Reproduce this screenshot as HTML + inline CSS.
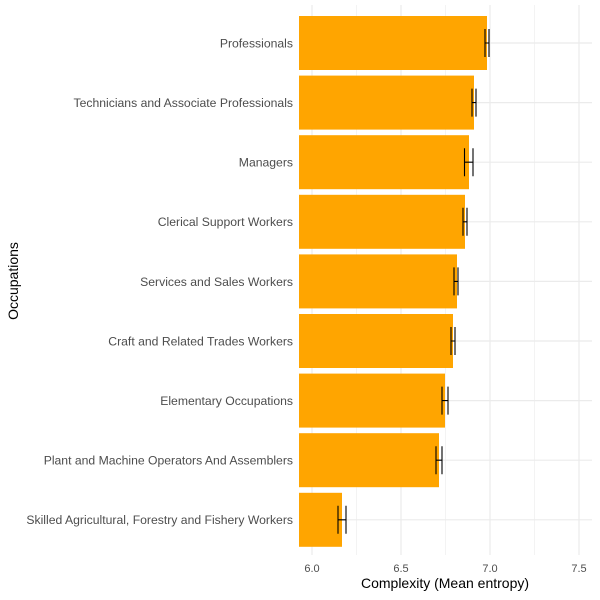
<!DOCTYPE html>
<html><head><style>body{margin:0;background:#fff}svg{display:block}</style></head><body>
<svg width="600" height="600" xmlns="http://www.w3.org/2000/svg" font-family="Liberation Sans, sans-serif">
<rect width="600" height="600" fill="#fff"/>
<g stroke="#ebebeb" stroke-width="0.6">
<line x1="356.5" y1="5" x2="356.5" y2="555"/><line x1="445.5" y1="5" x2="445.5" y2="555"/><line x1="534.5" y1="5" x2="534.5" y2="555"/>
</g>
<g stroke="#ebebeb" stroke-width="1.2">
<line x1="312" y1="5" x2="312" y2="555"/><line x1="401" y1="5" x2="401" y2="555"/><line x1="490" y1="5" x2="490" y2="555"/><line x1="579" y1="5" x2="579" y2="555"/>
<line x1="299" y1="43" x2="592" y2="43"/><line x1="299" y1="102.6" x2="592" y2="102.6"/><line x1="299" y1="162.2" x2="592" y2="162.2"/><line x1="299" y1="221.8" x2="592" y2="221.8"/><line x1="299" y1="281.4" x2="592" y2="281.4"/><line x1="299" y1="341" x2="592" y2="341"/><line x1="299" y1="400.6" x2="592" y2="400.6"/><line x1="299" y1="460.2" x2="592" y2="460.2"/><line x1="299" y1="519.8" x2="592" y2="519.8"/>
</g>
<g fill="#ffa500">
<rect x="299" y="16" width="188" height="54"/>
<rect x="299" y="75.6" width="175" height="54"/>
<rect x="299" y="135.2" width="170" height="54"/>
<rect x="299" y="194.8" width="166" height="54"/>
<rect x="299" y="254.4" width="158" height="54"/>
<rect x="299" y="314" width="154" height="54"/>
<rect x="299" y="373.6" width="146" height="54"/>
<rect x="299" y="433.2" width="140" height="54"/>
<rect x="299" y="492.8" width="43" height="54"/>
</g>
<g stroke="#000" stroke-width="1.1" fill="none">
<path d="M485 29V57M489 29V57M485 43H489"/>
<path d="M472 88.6V116.6M476 88.6V116.6M472 102.6H476"/>
<path d="M464.5 148.2V176.2M473 148.2V176.2M464.5 162.2H473"/>
<path d="M463 207.8V235.8M467 207.8V235.8M463 221.8H467"/>
<path d="M454 267.4V295.4M458 267.4V295.4M454 281.4H458"/>
<path d="M451 327V355M455 327V355M451 341H455"/>
<path d="M442 386.6V414.6M448 386.6V414.6M442 400.6H448"/>
<path d="M436 446.2V474.2M442 446.2V474.2M436 460.2H442"/>
<path d="M338 505.8V533.8M346 505.8V533.8M338 519.8H346"/>
</g>
<g font-size="12.2" fill="#4d4d4d" text-anchor="end">
<text x="293" y="47.5">Professionals</text>
<text x="293" y="107">Technicians and Associate Professionals</text>
<text x="293" y="166.6">Managers</text>
<text x="293" y="226.2">Clerical Support Workers</text>
<text x="293" y="285.8">Services and Sales Workers</text>
<text x="293" y="345.4">Craft and Related Trades Workers</text>
<text x="293" y="405">Elementary Occupations</text>
<text x="293" y="464.6">Plant and Machine Operators And Assemblers</text>
<text x="293" y="524.2">Skilled Agricultural, Forestry and Fishery Workers</text>
</g>
<g font-size="11" fill="#4d4d4d" text-anchor="middle">
<text x="312" y="572">6.0</text><text x="401" y="572">6.5</text><text x="490" y="572">7.0</text><text x="579" y="572">7.5</text>
</g>
<text x="445" y="588" font-size="14" text-anchor="middle" fill="#000">Complexity (Mean entropy)</text>
<text transform="translate(18,281) rotate(-90)" font-size="14" text-anchor="middle" fill="#000">Occupations</text>
</svg>
</body></html>
